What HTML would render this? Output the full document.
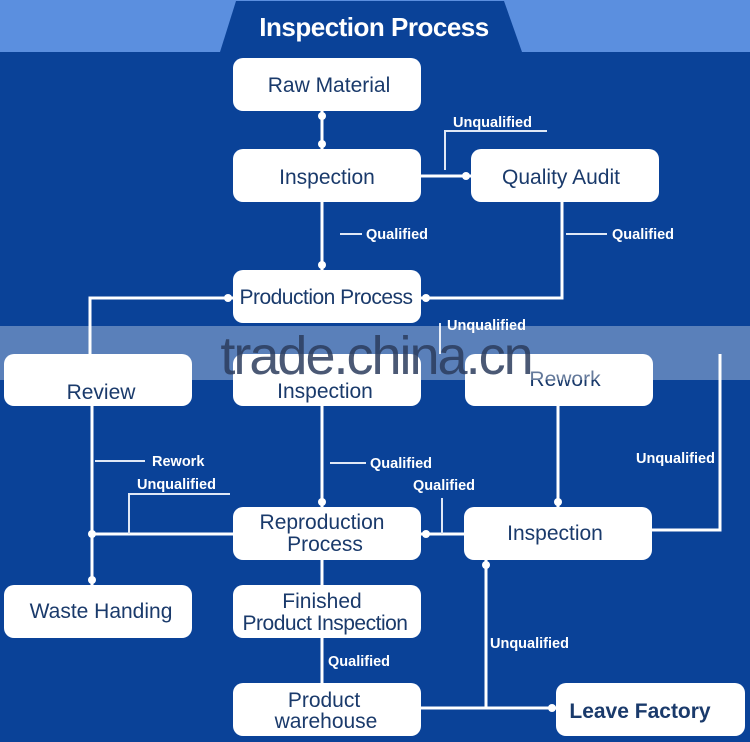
<!DOCTYPE html>
<html><head><meta charset="utf-8"><style>
html,body{margin:0;padding:0;background:#0a4298;}
svg{display:block}
text{font-family:"Liberation Sans",sans-serif;}
.b{fill:#fff}
.t{fill:#1a3a6b;font-size:21px;text-anchor:middle}
.l{fill:#fff;font-size:14.5px;font-weight:bold}
.w{stroke:#fff;stroke-width:3;fill:none}
.n{stroke:#dfe8f6;stroke-width:2;fill:none}
</style></head><body>
<svg width="750" height="742" xmlns="http://www.w3.org/2000/svg">
<rect x="0" y="0" width="750" height="742" fill="#0a4298"/>
<rect x="0" y="0" width="750" height="52" fill="#5b8fdf"/>
<polygon points="236,1 504,1 522,52 220,52" fill="#0a4298"/>
<text x="374" y="36" fill="#fff" font-size="26" font-weight="bold" text-anchor="middle" letter-spacing="-0.5">Inspection Process</text>

<path class="w" d="M322 111V149 M322 202V270 M421 176H471 M562 202V298H421 M233 298H90V354 M322 406V507 M558 406V507 M92 406V585 M92 534H233 M421 534H464 M652 530H720V354 M322 560V585 M322 638V683 M486 560V708 M421 708H556"/>
<path class="n" d="M445 170V131H547 M340 234H362 M566 234H607 M95 461H145 M129 534V494H230 M330 463H366 M442 534V498 M440 323V354"/>
<g fill="#fff">
<circle cx="322" cy="116" r="4"/><circle cx="322" cy="144" r="4"/><circle cx="466" cy="176" r="4"/>
<circle cx="322" cy="265" r="4"/><circle cx="426" cy="298" r="4"/><circle cx="228" cy="298" r="4"/>
<circle cx="92" cy="534" r="4"/><circle cx="92" cy="580" r="4"/><circle cx="322" cy="502" r="4"/>
<circle cx="426" cy="534" r="4"/><circle cx="558" cy="502" r="4"/><circle cx="486" cy="565" r="4"/>
<circle cx="552" cy="708" r="4"/>
</g>

<rect class="b" x="233" y="58" width="188" height="53" rx="10"/>
<rect class="b" x="233" y="149" width="188" height="53" rx="10"/>
<rect class="b" x="471" y="149" width="188" height="53" rx="10"/>
<rect class="b" x="233" y="270" width="188" height="53" rx="10"/>
<rect class="b" x="4" y="354" width="188" height="52" rx="10"/>
<rect class="b" x="233" y="354" width="188" height="52" rx="10"/>
<rect class="b" x="465" y="354" width="188" height="52" rx="10"/>
<rect class="b" x="233" y="507" width="188" height="53" rx="10"/>
<rect class="b" x="464" y="507" width="188" height="53" rx="10"/>
<rect class="b" x="4" y="585" width="188" height="53" rx="10"/>
<rect class="b" x="233" y="585" width="188" height="53" rx="10"/>
<rect class="b" x="233" y="683" width="188" height="53" rx="10"/>
<rect class="b" x="556" y="683" width="189" height="53" rx="10"/>

<text class="t" x="329" y="92">Raw Material</text>
<text class="t" x="327" y="184">Inspection</text>
<text class="t" x="561" y="184">Quality Audit</text>
<text class="t" x="326" y="304" letter-spacing="-0.5">Production Process</text>
<text class="t" x="101" y="399">Review</text>
<text class="t" x="325" y="398">Inspection</text>
<text class="t" x="565" y="386">Rework</text>
<text class="t" x="322" y="529">Reproduction</text>
<text class="t" x="325" y="551">Process</text>
<text class="t" x="555" y="540">Inspection</text>
<text class="t" x="101" y="618">Waste Handing</text>
<text class="t" x="322" y="608">Finished</text>
<text class="t" x="325" y="630" letter-spacing="-0.5">Product Inspection</text>
<text class="t" x="324" y="707">Product</text>
<text class="t" x="326" y="728">warehouse</text>
<text class="t" x="640" y="718" font-weight="bold">Leave Factory</text>

<text class="l" x="453" y="127">Unqualified</text>
<text class="l" x="366" y="239">Qualified</text>
<text class="l" x="612" y="239">Qualified</text>
<text class="l" x="447" y="330">Unqualified</text>
<text class="l" x="152" y="466">Rework</text>
<text class="l" x="137" y="489">Unqualified</text>
<text class="l" x="370" y="468">Qualified</text>
<text class="l" x="413" y="490">Qualified</text>
<text class="l" x="636" y="463">Unqualified</text>
<text class="l" x="490" y="648">Unqualified</text>
<text class="l" x="328" y="666">Qualified</text>

<rect x="0" y="326" width="750" height="54" fill="#ffffff" opacity="0.33"/>
<text x="376" y="374" font-size="54" fill="#2c3d5e" opacity="0.85" text-anchor="middle" letter-spacing="-2">trade.china.cn</text>
</svg>
</body></html>
